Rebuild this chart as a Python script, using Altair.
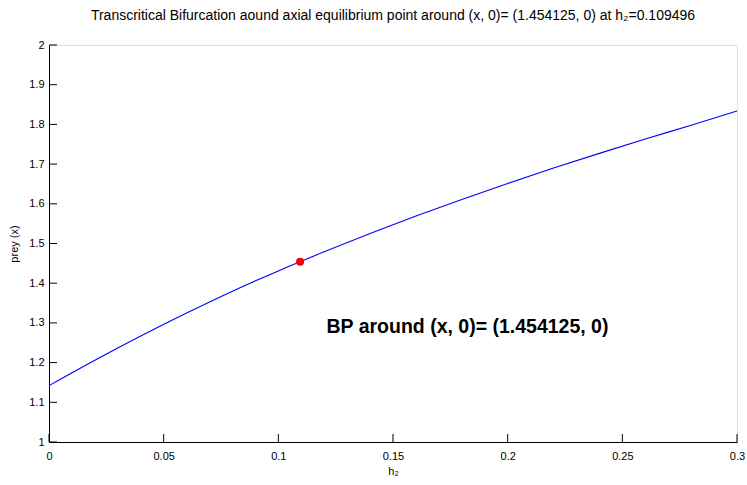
import altair as alt
import pandas as pd

# Curve
h2 = [0.0, 0.02, 0.04, 0.06, 0.08, 0.10, 0.12, 0.14, 0.16, 0.18, 0.20, 0.22, 0.24, 0.26, 0.28, 0.30]
prey = [1.142, 1.206, 1.267, 1.325, 1.380, 1.431, 1.479, 1.525, 1.569, 1.611, 1.651, 1.690, 1.727, 1.763, 1.798, 1.834]

bp_h2 = [0.109496]
bp_prey = [1.454125]

x_ticks = [0.0, 0.05, 0.1, 0.15, 0.2, 0.25, 0.3]
y_ticks = [1.0, 1.1, 1.2, 1.3, 1.4, 1.5, 1.6, 1.7, 1.8, 1.9, 2.0]

label_text = ["BP around (x, 0)= (1.454125, 0)"]
label_x = [0.121]
label_y = [1.29]

FONT = "Liberation Sans Narrow, Arial Narrow, Liberation Sans, sans-serif"

W, H = 688, 397

xs = alt.Scale(domain=[0, 0.3], nice=False, zero=False)
ys = alt.Scale(domain=[1, 2], nice=False, zero=False)

x_axis = alt.Axis(values=x_ticks, title="h₂", format="~g", tickSize=0,
                  labelPadding=8, titlePadding=4, domainColor="black",
                  labelFontSize=11, titleFontSize=11, titleFontWeight="normal",
                  labelFont=FONT, titleFont=FONT, labelColor="black", titleColor="black",
                  grid=False, labelFlush=False, labelOverlap=False)
y_axis = alt.Axis(values=y_ticks, title="prey (x)", format="~g", tickSize=0,
                  labelPadding=5, titlePadding=9, domainColor="black",
                  labelFontSize=11, titleFontSize=11, titleFontWeight="normal",
                  labelFont=FONT, titleFont=FONT, labelColor="black", titleColor="black",
                  grid=False, labelFlush=False, labelOverlap=False)

curve_df = pd.DataFrame({"h2": h2, "prey": prey})
bp_df = pd.DataFrame({"h2": bp_h2, "prey": bp_prey})
lab_df = pd.DataFrame({"h2": label_x, "prey": label_y, "t": label_text})
xt_df = pd.DataFrame({"h2": x_ticks})
yt_df = pd.DataFrame({"prey": y_ticks})

line = alt.Chart(curve_df).mark_line(color="#0000ff", strokeWidth=1.1, interpolate="monotone").encode(
    x=alt.X("h2:Q", scale=xs, axis=x_axis),
    y=alt.Y("prey:Q", scale=ys, axis=y_axis),
)

point = alt.Chart(bp_df).mark_point(filled=True, color="#ff0000", size=65, opacity=1).encode(
    x=alt.X("h2:Q", scale=xs, axis=x_axis), y=alt.Y("prey:Q", scale=ys, axis=y_axis)
)

label = alt.Chart(lab_df).mark_text(
    align="left", baseline="middle", fontSize=19.5, fontWeight="bold", font=FONT, color="black"
).encode(x=alt.X("h2:Q", scale=xs, axis=x_axis), y=alt.Y("prey:Q", scale=ys, axis=y_axis), text="t:N")

xticks = alt.Chart(xt_df).mark_rule(color="black", strokeWidth=1).encode(
    x=alt.X("h2:Q", scale=xs, axis=x_axis), y=alt.value(H), y2=alt.value(H - 8)
)
yticks = alt.Chart(yt_df).mark_rule(color="black", strokeWidth=1).encode(
    y=alt.Y("prey:Q", scale=ys, axis=y_axis), x=alt.value(0), x2=alt.value(8)
)

chart = alt.layer(line, xticks, yticks, point, label).properties(
    width=W, height=H,
    title=alt.Title(
        "Transcritical Bifurcation aound axial equilibrium point around (x, 0)= (1.454125, 0) at h₂=0.109496",
        font=FONT, fontSize=14, fontWeight="normal", color="black", anchor="middle", offset=16,
    ),
    autosize=alt.AutoSizeParams(type="none"),
    padding={"left": 49, "top": 45, "right": 10, "bottom": 43},
).configure_view(stroke=None).configure(background="white")

chart.save("out.html", embed_options={"renderer": "svg", "actions": False})
